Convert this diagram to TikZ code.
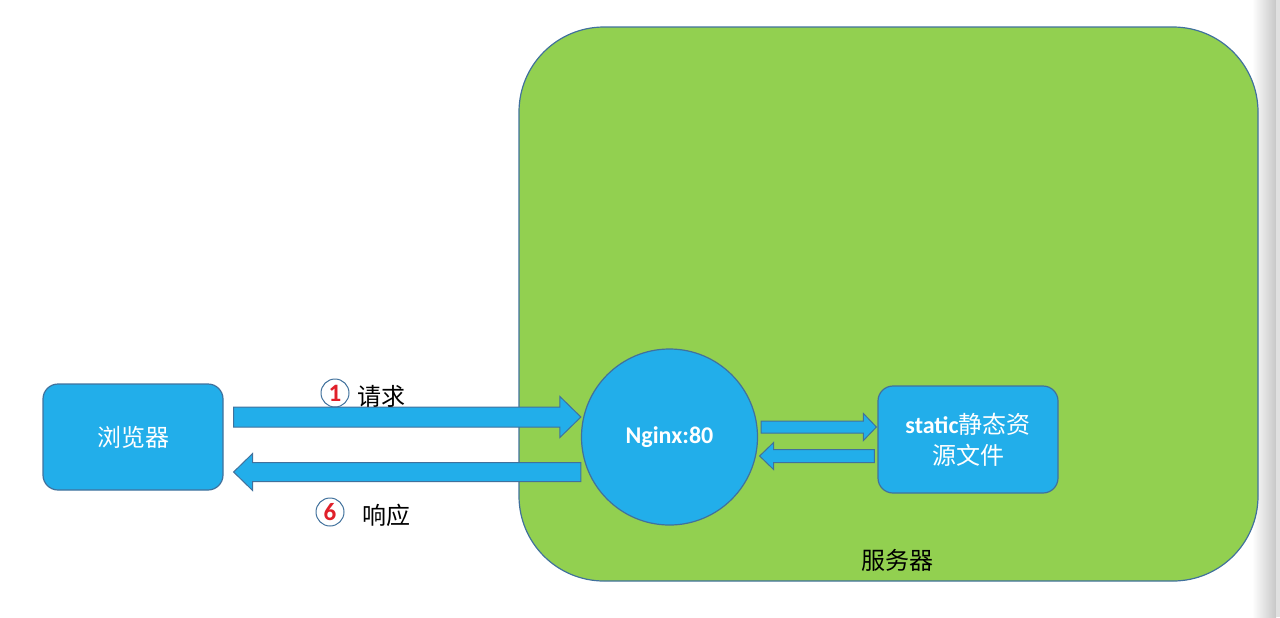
\documentclass[tikz,border=0pt]{standalone}
\usepackage{fontspec}
\setmainfont{Carlito}
\newfontfamily\cjk{Noto Sans CJK SC}
\usetikzlibrary{calc}

\definecolor{servergreen}{HTML}{92D050}
\definecolor{boxblue}{HTML}{22AEEA}
\definecolor{edgeblue}{HTML}{41719C}
\definecolor{numred}{HTML}{E0202A}

\tikzset{
  bluebox/.style={draw=edgeblue, fill=boxblue, line width=0.6pt, rounded corners=7.5pt,
    text=white, font=\fontsize{12}{15.5}\selectfont, align=center},
  pipe/.style={draw=edgeblue, fill=boxblue, line width=0.5pt},
  numcircle/.style={circle, draw=edgeblue, line width=0.5pt, minimum size=14pt, inner sep=0pt,
    text=numred, font=\fontsize{12.5}{14}\selectfont\bfseries},
  cjklabel/.style={font=\fontsize{12}{14}\selectfont\cjk, text=black}
}

% block arrow: start, end, shaft half width, head half width, head length (signed)
\newcommand{\fatarrow}[5]{%
  \draw[pipe] let \p1=(#1), \p2=(#2) in
    (\x1,{\y1+#3}) -- ({\x2-(#5)},{\y1+#3}) -- ({\x2-(#5)},{\y1+#4}) -- (\x2,\y1)
    -- ({\x2-(#5)},{\y1-#4}) -- ({\x2-(#5)},{\y1-#3}) -- (\x1,{\y1-#3}) -- cycle;}

\begin{document}
\begin{tikzpicture}[x=0.5pt, y=-0.5pt]
\useasboundingbox (0,0) rectangle (1280,617);

% page shadow on the right
\shade[left color=white, right color=black!22] (1252,0) rectangle (1276,617);
\fill[black!12] (1276,0) rectangle (1280,617);

% the server
\node[draw=edgeblue, fill=servergreen, line width=0.6pt, rounded corners=42.5pt,
  minimum width=369.5pt, minimum height=277pt, inner sep=0pt] (server) at (888.5,304) {};
\node[cjklabel] (serverlabel) at (897,560) {服务器};

% boxes
\node[bluebox, minimum width=90pt, minimum height=53pt] (browser) at (133,437) {\cjk 浏览器};
\node[bluebox, circle, minimum size=88pt, inner sep=0pt, font=\fontsize{12}{14}\selectfont\bfseries]
  (nginx) at (669.5,437) {Nginx:80};
\node[bluebox, minimum width=90pt, minimum height=53.5pt] (static) at (968,439.5)
  {\textbf{static}{\cjk 静态资}\\{\cjk 源文件}};

% arrows between browser and nginx
\coordinate (req-s) at ($(browser.east)+(10,-20)$);
\coordinate (req-e) at (nginx.west |- req-s);
\coordinate (res-s) at ($(nginx.west)+(0,35)$);
\coordinate (res-e) at ($(browser.east)+(10,35)$);
\fatarrow{req-s}{req-e}{5pt}{10.25pt}{10.5pt}
\fatarrow{res-s}{res-e}{4.75pt}{9.25pt}{-9.5pt}

% arrows between nginx and static files
\coordinate (fwd-s) at ($(nginx.east)+(3,-10)$);
\coordinate (fwd-e) at ($(static.west |- fwd-s)+(-1,0)$);
\coordinate (back-s) at ($(static.west)+(-3,16.5)$);
\coordinate (back-e) at ($(nginx.east |- back-s)+(1.5,0)$);
\fatarrow{fwd-s}{fwd-e}{3pt}{6.75pt}{6.5pt}
\fatarrow{back-s}{back-e}{3.25pt}{6.75pt}{-7pt}

% labels
\node[numcircle] (num1) at (335,393) {1};
\node[cjklabel] (reqlabel) at (381,396) {请求};
\node[numcircle] (num6) at (330,512) {6};
\node[cjklabel] (reslabel) at (386,515) {响应};
\end{tikzpicture}
\end{document}
